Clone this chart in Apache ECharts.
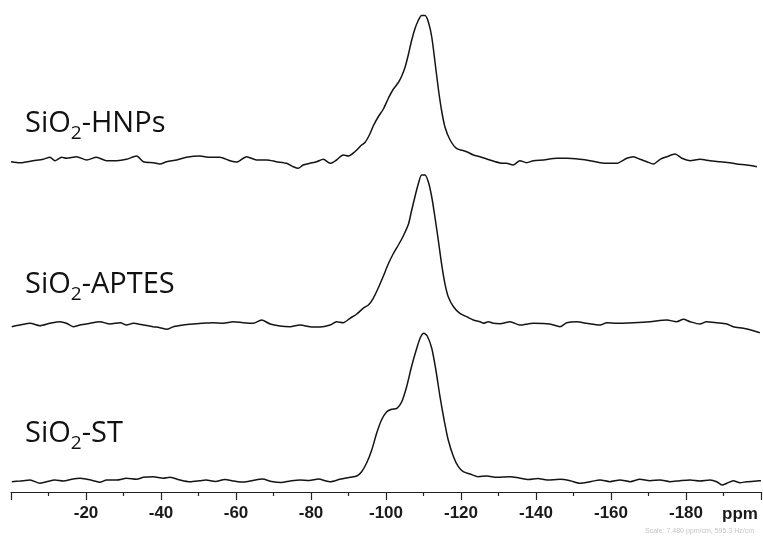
<!DOCTYPE html>
<html>
<head>
<meta charset="utf-8">
<script src="https://cdn.jsdelivr.net/npm/echarts@6/dist/echarts.min.js"></script>
<style>
  html, body { margin: 0; padding: 0; background: #fff; }
  #chart { width: 763px; height: 537px; }
</style>
</head>
<body>
<div id="chart"></div>
<script>
// 29Si solid-state NMR spectra (chemical shift in ppm, intensity in arbitrary units)

const hnpsShift = [0,-2.4,-5.9,-8.6,-10.4,-11.7,-13.5,-14.8,-17.5,-20.2,-22.8,-25.5,-28.2,-30.8,-33.5,-35.3,-38,-39.7,-41.5,-44.2,-46.8,-50.4,-53,-55.7,-58.4,-60.2,-62.8,-65.5,-68.2,-70.8,-73.5,-75.3,-76.6,-77.9,-79.7,-81.5,-83.3,
  -85.1,-86.8,-88.6,-90,-91.7,-93.5,-94.4,-95.7,-96.6,-97.9,-99.3,-100.6,-101.9,-103.3,-104.2,-105.1,-106,-106.8,-107.7,-108.6,-109.5,-110.4,-111.3,-112.2,-113.1,-114,-114.8,-115.7,-117.1,-118.8,-121.5,-123.3,-125.1,-127.7,-130.4,
  -132.2,-133.9,-135.7,-137.5,-139.3,-142,-145.5,-148.2,-151.7,-154.4,-157.1,-159.7,-161.5,-164.2,-166,-167.7,-169.5,-171.3,-173.1,-174.9,-177.1,-178.9,-181.1,-183.7,-186.4,-189.1,-191.7,-193.5,-196.2,-198.9];
const hnpsIntensity = [-0.7,-1.7,0.3,1.7,3.7,0.3,3.7,2.7,4.3,1,3.7,0.3,0.3,1.7,5,-0.7,-1.7,-3,-0.7,1,3.7,5,3.7,3.7,0.3,-1,4.3,1,1,-0.7,-2.3,-5.7,-7.3,-4,-2.3,-0.7,1.7,
  -2.3,1,6,5,9.3,16,18.5,27,35,44,52,62.5,71.5,78.5,85,94,107,120,132,140.5,145.5,145.5,139,124,98,71,51,34.3,21,12.7,9.3,6,4.3,1,-2,
  -2.3,-4,0.3,-1.7,0.3,1,2.7,2.7,1.7,0.3,-1.7,-2.3,-2.3,2.7,4.3,1.7,-0.7,-3,1.7,4.3,7,2.7,0.3,1.7,0.3,-0.7,-1.7,-3,-4,-5.7];

const aptesShift = [-0.2,-2.4,-5.1,-7.7,-10.4,-13.1,-14.8,-16.6,-18.4,-21.1,-23.7,-26.4,-29.1,-30.8,-32.6,-35.3,-37.9,-39.7,-41.5,-43.3,-45.9,-48.6,-51.3,-53.9,-56.6,-59.3,-61.9,-64.6,-66.8,-69.1,-71.7,-74.4,-77.1,-79.7,-82.4,
  -85.1,-86.8,-88.6,-90.4,-92.2,-93.9,-95.3,-96.6,-97.9,-99.3,-100.6,-101.9,-103.3,-104.6,-106,-106.8,-107.7,-108.6,-109.5,-110.4,-111.3,-112.2,-113.1,-114,-114.8,-115.7,-116.6,-118,-119.7,-121.5,-123.3,-125.1,-126,-127.3,-128.6,-130.4,
  -133.1,-135.7,-139.3,-143.7,-146.4,-148.2,-150.8,-153.5,-157.1,-158.9,-161.5,-166,-170.4,-174.9,-177.5,-179.3,-181.1,-183.7,-185.5,-188.2,-190.9,-192.6,-195.3,-198,-199.7];
const aptesIntensity = [-2.7,-1,0.7,-1.7,0.7,2.3,0.7,-2.7,-1,0.7,2.3,0,1.3,-1,0.7,-1,-2.7,-3.7,-5.3,-2.7,-1,0,0.7,1.3,0.7,2.3,1.3,0.7,4,0,-2,-2.7,-1,-2.7,-3,
  -1,2.3,1.3,5.7,10,15.7,19,25.7,35.7,48,60,70,79,88,100,113,127,140,149,149,142,127,105.7,82.3,60.7,40.7,27.3,17.3,10.7,7.3,4,2.3,0.7,2.3,0.7,0.3,
  2.3,-1,0.7,0,-2.7,1.3,2.3,0.7,-1,1.3,0.7,1.3,2.3,4,2.3,4.7,2.3,0,2.3,1.3,0,-2.7,-4.3,-6.7,-8.7];

const stShift = [-0.2,-2.4,-5.1,-7.7,-9.5,-11.7,-14,-16.2,-18.4,-20.2,-22,-23.7,-25.5,-28.2,-30.8,-33.5,-35.3,-37.9,-40.6,-42.4,-45.1,-47.7,-50.4,-52,-54.5,-57,-59.5,-62,-64.5,-67,-69.5,-72,-74.5,-77,-79.5,-82,-84,
  -85.1,-87.7,-90.4,-92.2,-93.5,-94.8,-96.2,-97.5,-98.8,-100.2,-101.5,-102.9,-104.2,-105.5,-106.8,-108.2,-109.2,-110.1,-111,-112.2,-113.3,-114.4,-115.5,-116.6,-118,-119.3,-120.6,-122.4,-124.6,-126.9,-129.6,-133.1,-135.5,-138,-140.5,-143,
  -146.4,-149.1,-151.7,-154.4,-157.1,-159.7,-162.4,-165.1,-167.7,-170.4,-173.1,-175.7,-178.4,-181.1,-183.7,-186.4,-188.2,-189.6,-190.9,-192.6,-194.4,-196.2,-198.9,-200];
const stIntensity = [-1.7,-1,0,-3.3,-1.7,0,-1,0.7,1.7,0.7,-0.7,-2.3,0,0,1.7,0.7,2.7,3.3,1.7,2.7,0,-1.7,-0.7,0,-1.5,0.5,-1,-2,-0.5,1,-1.5,-2.5,-1,0,-0.5,1,-1,
  -1.7,0.7,2.7,4,8.3,16.7,30,46.7,60,68.3,70.7,71.7,78.3,93.3,113.3,131.7,142.7,146.7,144,131.7,110,83.3,60,40,23.3,13.3,8.3,6,3.3,4,2.7,3.3,2,0.5,1.5,0,
  0.7,-0.7,-3.3,-1.7,0,-1.7,0,-1.7,0.7,-0.7,0,-1.7,-0.7,0,-1,0,-1.7,-5,-3.3,-0.7,-2.7,-1.7,-1,-0.7];

const sampleNames = ['HNPs', 'APTES', 'ST'];
const axisTitle = 'ppm';
const scaleNote = 'Scale: 7.480 ppm/cm, 595.3 Hz/cm';

// vertical stacking of the three spectra (baseline of each trace, in y-axis units)
const stackOffset = { HNPs: 331, APTES: 168, ST: 12 };
const labelTop = { HNPs: 105, APTES: 266, ST: 415 };

function trace(shift, intensity, offset) {
  return shift.map((s, i) => [s, intensity[i] + offset]);
}

const spectra = {
  HNPs: trace(hnpsShift, hnpsIntensity, stackOffset.HNPs),
  APTES: trace(aptesShift, aptesIntensity, stackOffset.APTES),
  ST: trace(stShift, stIntensity, stackOffset.ST)
};

const inkColor = '#141414';

const chart = echarts.init(document.getElementById('chart'), null, { renderer: 'canvas' });

chart.setOption({
  animation: false,
  backgroundColor: '#ffffff',
  grid: { left: 11, right: 2, top: 0, bottom: 45, containLabel: false },
  xAxis: {
    type: 'value',
    min: -200,
    max: 0,
    interval: 20,
    inverse: true,
    axisLine: { lineStyle: { color: '#222', width: 1.2 } },
    axisTick: { length: 8, lineStyle: { color: '#222', width: 1.2 } },
    minorTick: { show: true, splitNumber: 2, length: 4, lineStyle: { color: '#222', width: 1.2 } },
    splitLine: { show: false },
    axisLabel: {
      showMinLabel: false,
      showMaxLabel: false,
      margin: 13,
      color: '#1a1a1a',
      fontFamily: 'Liberation Sans',
      fontWeight: 'bold',
      fontSize: 17
    }
  },
  yAxis: { type: 'value', min: 0, max: 492, show: false },
  series: sampleNames.map(name => ({
    name: name,
    type: 'line',
    data: spectra[name],
    showSymbol: false,
    smooth: 0.25,
    lineStyle: { color: inkColor, width: 1.5 }
  })),
  graphic: sampleNames.map(name => ({
    type: 'text',
    x: 25,
    y: labelTop[name],
    style: {
      text: '{m|SiO}{s|2}{m|-' + name + '}',
      verticalAlign: 'top',
      rich: {
        m: { fontFamily: 'Open Sans', fontSize: 29, lineHeight: 38, fill: '#111' },
        s: { fontFamily: 'Open Sans', fontSize: 19, lineHeight: 19, verticalAlign: 'bottom', fill: '#111' }
      }
    }
  })).concat([
    {
      type: 'text',
      x: 722,
      y: 514,
      style: {
        text: axisTitle,
        verticalAlign: 'middle',
        font: 'bold 17px "Liberation Sans"',
        fill: '#1a1a1a'
      }
    },
    {
      type: 'text',
      x: 754,
      y: 531,
      style: {
        text: scaleNote,
        align: 'right',
        verticalAlign: 'middle',
        font: '7px "Liberation Sans"',
        fill: '#c4c4c4'
      }
    }
  ])
});
</script>
</body>
</html>
